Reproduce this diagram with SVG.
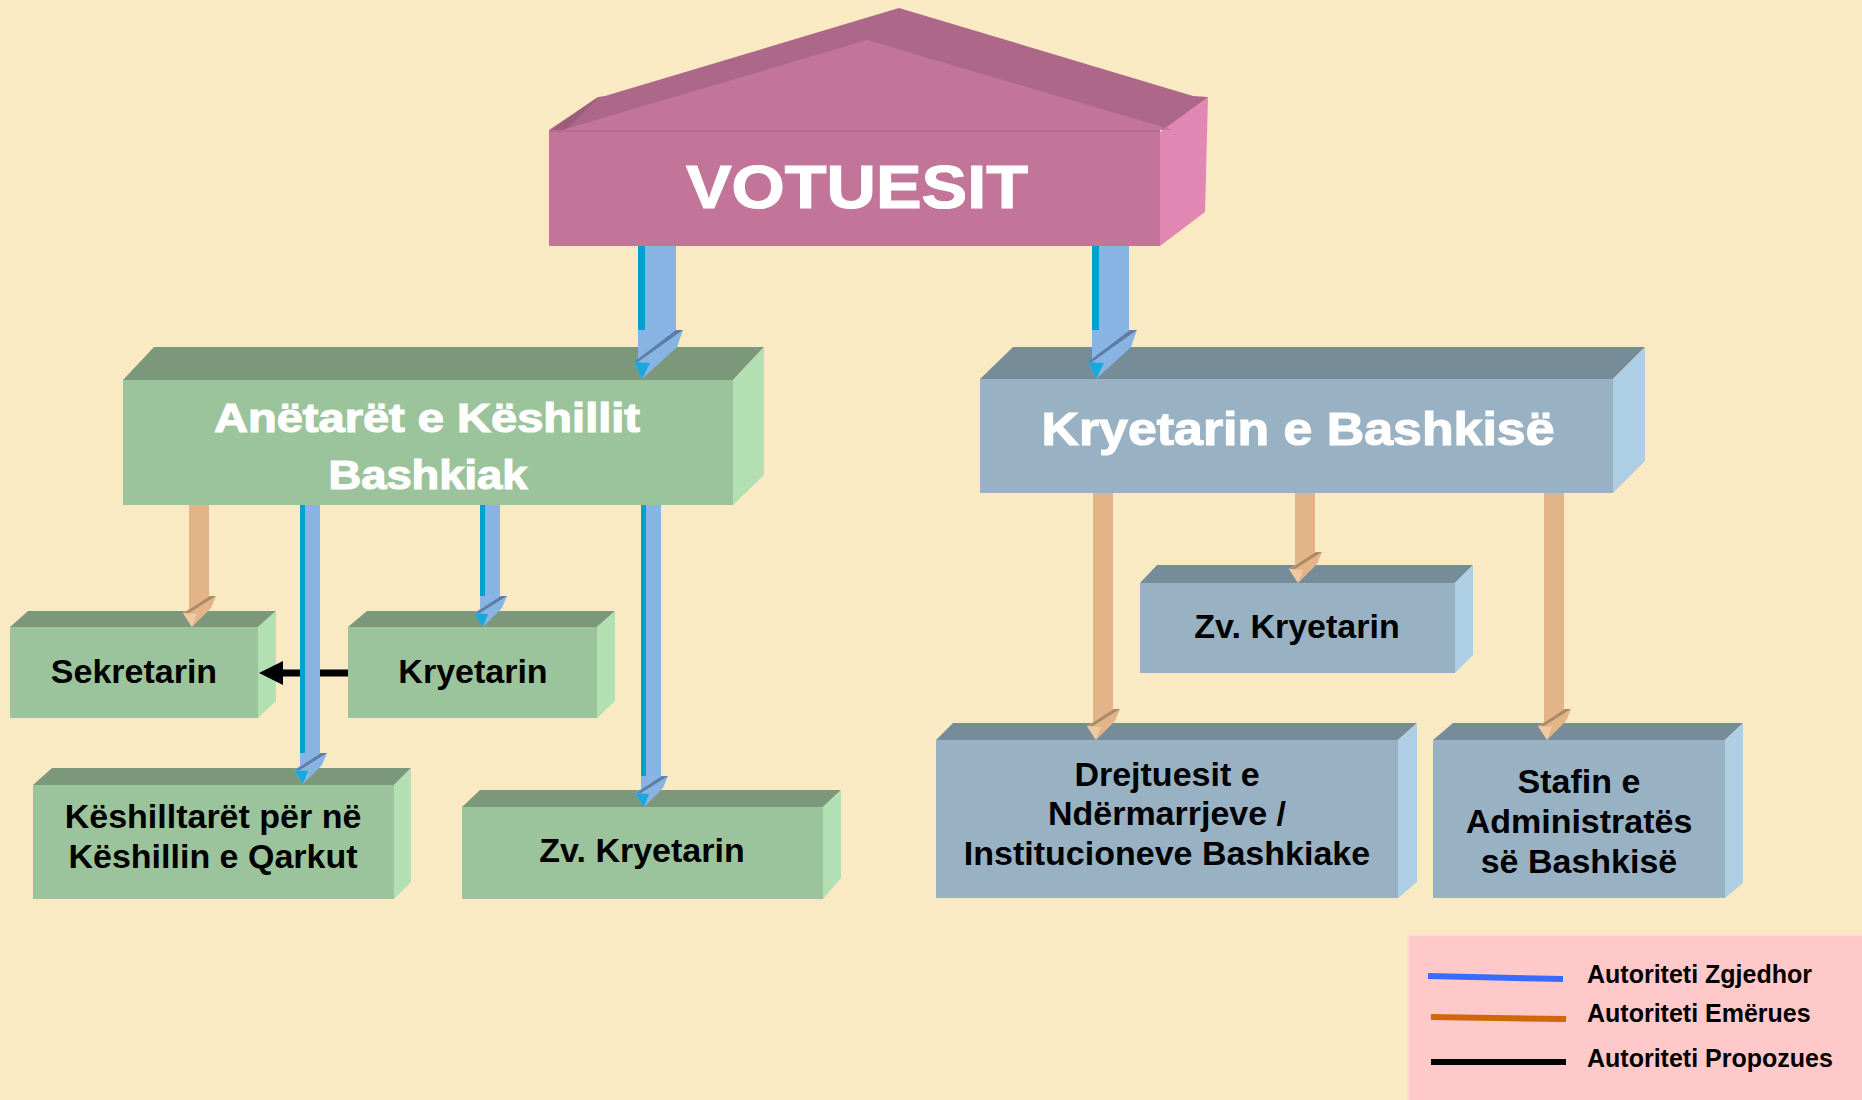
<svg xmlns="http://www.w3.org/2000/svg" xmlns:xlink="http://www.w3.org/1999/xlink" width="1862" height="1100" viewBox="0 0 1862 1100">
<style>
.gt{fill:#7B987A}.gf{fill:#9CC49C}.gs{fill:#B3E0B3}
.bt{fill:#768C98}.bf{fill:#98B2C4}.bs{fill:#AECFE3}
.w{font-family:"Liberation Sans",Arial,sans-serif;font-weight:bold;fill:#FFFFFF;stroke:#FFFFFF;stroke-width:1.2px;text-anchor:middle}
.k{font-family:"Liberation Sans",Arial,sans-serif;font-weight:bold;fill:#000000;text-anchor:middle;font-size:34px}
.lg{font-family:"Liberation Sans",Arial,sans-serif;font-weight:bold;fill:#000000;font-size:25px}
.sb{fill:#88B4E3}.sc{fill:#00A0D0}.st{fill:#E2B487}
</style>
<defs>
<g id="hbS">
<path d="M0,0H27L22,12L3,31L-6,17L0,13Z" fill="#88B4E3"/>
<path d="M21,0H27L0,17H-5Z" fill="#5B7DA6"/>
<path d="M-6,17L8,18L3,31Z" fill="#1AA8DC"/>
</g>
<g id="htS">
<path d="M0,0H27L22,12L3,31L-6,17L0,13Z" fill="#E2B487"/>
<path d="M21,0H27L0,17H-5Z" fill="#A98A69"/>
<path d="M-6,17L8,18L3,31Z" fill="#EEC9A1"/>
</g>
<g id="hbL">
<path d="M0,0H45L39,17L4,49L-4,32L0,30Z" fill="#88B4E3"/>
<path d="M38,0H45L0,32H-4Z" fill="#5B7DA6"/>
<path d="M-4,32L12,33L4,49Z" fill="#1AA8DC"/>
</g>
</defs>
<rect x="0" y="0" width="1862" height="1100" fill="#FAEAC4"/>

<g id="votuesit">
<polygon points="549,130 598,97 605,96 899,8 1193,96 1208,97 1173,130" fill="#AD6788"/>
<polygon points="552,130 598,97 566,130" fill="#9C5D7A"/>
<polygon points="1160,132 1208,97 1205,212 1160,246" fill="#E088B3"/>
<polygon points="562,130 867,40 1173,130" fill="#C27599"/>
<rect x="549" y="130" width="611" height="116" fill="#C27599"/>
<line x1="549" y1="131" x2="1160" y2="131" stroke="#B86C8F" stroke-width="2"/>
<text class="w" x="857" y="208" font-size="61" textLength="342" lengthAdjust="spacingAndGlyphs">VOTUESIT</text>
</g>

<g id="keshilli">
<polygon class="gt" points="123,380 154,347 764,347 733,380"/>
<polygon class="gs" points="733,380 764,347 764,475 733,505"/>
<rect class="gf" x="123" y="380" width="610" height="125"/>
<text class="w" x="427" y="432" font-size="41" textLength="426" lengthAdjust="spacingAndGlyphs">Anëtarët e Këshillit</text>
<text class="w" x="428" y="489" font-size="41" textLength="199" lengthAdjust="spacingAndGlyphs">Bashkiak</text>
</g>

<g id="kryetari-bashkise">
<polygon class="bt" points="980,379 1013,347 1645,347 1613,379"/>
<polygon class="bs" points="1613,379 1645,347 1645,461 1613,493"/>
<rect class="bf" x="980" y="379" width="633" height="114"/>
<text class="w" x="1298" y="445" font-size="46" textLength="513" lengthAdjust="spacingAndGlyphs">Kryetarin e Bashkisë</text>
</g>

<g id="sekretarin">
<polygon class="gt" points="10,627 28,611 276,611 258,627"/>
<polygon class="gs" points="258,627 276,611 276,701 258,718"/>
<rect class="gf" x="10" y="627" width="248" height="91"/>
<text class="k" x="134" y="683">Sekretarin</text>
</g>

<g id="kryetarin">
<polygon class="gt" points="348,627 367,611 615,611 597,627"/>
<polygon class="gs" points="597,627 615,611 615,701 597,718"/>
<rect class="gf" x="348" y="627" width="249" height="91"/>
<text class="k" x="473" y="683">Kryetarin</text>
</g>

<g id="keshilltaret">
<polygon class="gt" points="33,785 52,768 411,768 394,785"/>
<polygon class="gs" points="394,785 411,768 411,882 394,899"/>
<rect class="gf" x="33" y="785" width="361" height="114"/>
<text class="k" x="213" y="828">Këshilltarët për në</text>
<text class="k" x="213" y="868">Këshillin e Qarkut</text>
</g>

<g id="zv-kryetarin-keshilli">
<polygon class="gt" points="462,807 480,790 841,790 823,807"/>
<polygon class="gs" points="823,807 841,790 841,878 823,899"/>
<rect class="gf" x="462" y="807" width="361" height="92"/>
<text class="k" x="642" y="862">Zv. Kryetarin</text>
</g>

<g id="zv-kryetarin-bashkise">
<polygon class="bt" points="1140,583 1157,565 1473,565 1455,583"/>
<polygon class="bs" points="1455,583 1473,565 1473,655 1455,673"/>
<rect class="bf" x="1140" y="583" width="315" height="90"/>
<text class="k" x="1297" y="638">Zv. Kryetarin</text>
</g>

<g id="drejtuesit">
<polygon class="bt" points="936,740 953,723 1417,723 1398,740"/>
<polygon class="bs" points="1398,740 1417,723 1417,882 1398,898"/>
<rect class="bf" x="936" y="740" width="462" height="158"/>
<text class="k" x="1167" y="786">Drejtuesit e</text>
<text class="k" x="1167" y="825">Ndërmarrjeve /</text>
<text class="k" x="1167" y="865">Institucioneve Bashkiake</text>
</g>

<g id="stafin">
<polygon class="bt" points="1433,740 1453,723 1743,723 1725,740"/>
<polygon class="bs" points="1725,740 1743,723 1743,883 1725,898"/>
<rect class="bf" x="1433" y="740" width="292" height="158"/>
<text class="k" x="1579" y="793">Stafin e</text>
<text class="k" x="1579" y="833">Administratës</text>
<text class="k" x="1579" y="873">së Bashkisë</text>
</g>

<g id="connectors">
<line x1="281" y1="673" x2="348" y2="673" stroke="#000" stroke-width="7"/>
<polygon points="259,673 283,661 283,685" fill="#000"/>

<rect class="sb" x="638" y="246" width="38" height="86"/>
<rect class="sc" x="638" y="246" width="7" height="116"/>
<use xlink:href="#hbL" x="638" y="330"/>

<rect class="sb" x="1092" y="246" width="37" height="86"/>
<rect class="sc" x="1092" y="246" width="7" height="116"/>
<use xlink:href="#hbL" x="1092" y="330"/>

<rect class="st" x="189" y="505" width="20" height="93"/>
<use xlink:href="#htS" x="189" y="596"/>

<rect class="sb" x="300" y="505" width="20" height="250"/>
<rect class="sc" x="300" y="505" width="5" height="266"/>
<use xlink:href="#hbS" x="300" y="753"/>

<rect class="sb" x="480" y="505" width="20" height="93"/>
<rect class="sc" x="480" y="505" width="5" height="108"/>
<use xlink:href="#hbS" x="480" y="596"/>

<rect class="sb" x="641" y="505" width="20" height="273"/>
<rect class="sc" x="641" y="505" width="5" height="288"/>
<use xlink:href="#hbS" x="641" y="776"/>

<rect class="st" x="1295" y="493" width="20" height="61"/>
<use xlink:href="#htS" x="1295" y="552"/>

<rect class="st" x="1093" y="493" width="20" height="218"/>
<use xlink:href="#htS" x="1093" y="709"/>

<rect class="st" x="1544" y="493" width="20" height="218"/>
<use xlink:href="#htS" x="1544" y="709"/>
</g>

<g id="legend">
<rect x="1408" y="935" width="460" height="170" fill="#FFC9C9" stroke="#FFDDD5" stroke-width="2"/>
<line x1="1428" y1="976" x2="1563" y2="979" stroke="#3A6BFF" stroke-width="6"/>
<line x1="1431" y1="1017" x2="1566" y2="1019" stroke="#CF680A" stroke-width="6"/>
<line x1="1431" y1="1062" x2="1566" y2="1062" stroke="#000" stroke-width="6"/>
<text class="lg" x="1587" y="983">Autoriteti Zgjedhor</text>
<text class="lg" x="1587" y="1022">Autoriteti Emërues</text>
<text class="lg" x="1587" y="1067">Autoriteti Propozues</text>
</g>
</svg>
